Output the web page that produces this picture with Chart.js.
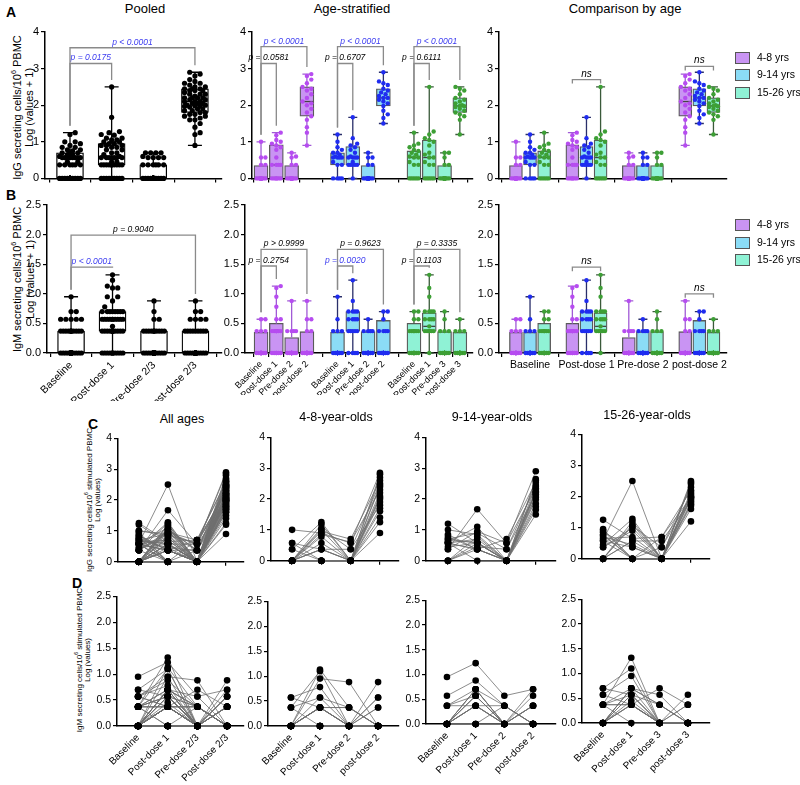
<!DOCTYPE html>
<html><head><meta charset="utf-8">
<script src="https://cdn.jsdelivr.net/npm/chart.js@4.4.1/dist/chart.umd.min.js"></script>
<style>
body{margin:0;width:800px;height:785px;position:relative;background:#fff;overflow:hidden;font-family:"Liberation Sans",Arial,sans-serif;color:#000}
canvas{position:absolute}
.t{position:absolute;white-space:nowrap;transform:translate(-50%,-50%);font-size:13px}
.L{position:absolute;font-weight:bold;font-size:14px}
.lg{position:absolute;font-size:10.5px;white-space:nowrap}
.sq{position:absolute;width:15px;height:12px;border:1.3px solid #555;box-sizing:border-box}
.v{position:absolute;white-space:nowrap;transform-origin:50% 50%;transform:rotate(-90deg)}
.v sup{font-size:65%;line-height:0}
</style></head><body>
<script>
// ================= DATA =================
const timepoints = ['Baseline', 'Post-dose 1', 'Pre-dose 2/3', 'Post-dose 2/3'];
const ageGroups = ['4-8 yrs', '9-14 yrs', '15-26 yrs'];
const groupTitles = ['4-8-year-olds', '9-14-year-olds', '15-26-year-olds'];
const stratLabels48 = ['Baseline', 'Post-dose 1', 'Pre-dose 2', 'post-dose 2'];
const stratLabels914 = ['Baseline', 'Post-dose 1', 'Pre-dose 2', 'post-dose 2'];
const stratLabels1526 = ['Baseline', 'Post-dose 1', 'Pre-dose 3', 'post-dose 3'];
const compareLabels = ['Baseline', 'Post-dose 1', 'Pre-dose 2', 'post-dose 2'];

// IgG secreting cells (log), one entry per subject
const igG_4to8_baseline  = [0,0,0.37,0,1.0,0,0,0.57,0,0,0.37,0,0,0.57,0,0,0,0,0];
const igG_4to8_postDose1 = [0.78,1.05,0,0.37,0.9,0,1.18,0.37,0.95,0,1.25,0.57,0.37,0,1.0,0.85,0,0.37,0];
const igG_4to8_preDose2  = [0,0.37,0,0,0.57,0,0,0,0.7,0,0,0,0.37,0,0,0.6,0,0,0];
const igG_4to8_postDose2 = [2.1,2.5,1.4,1.9,2.85,0.9,2.45,2.0,2.6,1.6,2.8,2.2,1.8,1.25,2.7,2.3,1.7,2.05,2.4];

const igG_9to14_baseline  = [0.57,0,0.7,1.2,0.37,0.57,0,0.85,0.45,0.6,0.57,0,0.78,1.0,0.37,0.65,0.7,0.57,0];
const igG_9to14_postDose1 = [0.37,0.57,0.9,0.57,1.67,0.37,0.78,0.37,0.57,1.1,0,0.45,0.37,0.85,0.95,0.6,0.57,0.7,0.37];
const igG_9to14_preDose2  = [0,0,0.37,0,0.57,0,0,0.7,0,0,0,0.37,0,0,0.57,0,0,0,0];
const igG_9to14_postDose2 = [2.2,1.85,2.45,2.6,2.9,1.5,2.05,2.55,1.75,2.3,1.65,2.15,2.4,2.65,2.35,1.98,2.1,2.25,2.2];

const igG_15to26_baseline  = [0.78,0,0.57,1.25,0,0.37,0.9,0.6,0,0.95,0.45,0.7,0,0.85,0.57,0.65,0.37,0,0.75];
const igG_15to26_postDose1 = [0,1.1,0.37,0.65,1.2,1.0,0,2.5,0.57,0,1.28,0.45,1.05,0.37,0,0.7,0.9,0.57,0];
const igG_15to26_preDose3  = [0.37,0,0,0.7,0,0,0,0,0.57,0,0,0,0.37,0,0.7,0,0,0,0];
const igG_15to26_postDose3 = [2.0,2.45,1.8,2.2,1.6,1.95,2.5,2.4,1.85,1.2,2.15,1.7,2.3,1.9,1.97,2.05,1.75,2.1,1.98];

// IgM secreting cells (log), one entry per subject
const igM_4to8_baseline  = [0,0.37,0,0,0.57,0,0,0,0.37,0,0,0,0.57,0,0,0.37,0,0,0];
const igM_4to8_postDose1 = [0.37,1.1,0,0.57,0.37,0,0.95,0.37,0,1.13,0.37,0,0.78,0.37,0,0.57,0.37,0,0.37];
const igM_4to8_preDose2  = [0,0,0,0.37,0,0,0.88,0,0,0.37,0,0,0,0.37,0,0,0,0,0.37];
const igM_4to8_postDose2 = [0,0.37,0,0,0,0.88,0,0,0.57,0,0,0.37,0,0,0.57,0,0,0,0];

const igM_9to14_baseline  = [0,0,0.37,0,0.95,0,0,0.57,0,0,0.37,0,0,0,0.37,0,0,0,0];
const igM_9to14_postDose1 = [0.57,0.37,0.7,0,1.23,0.37,0.57,0.88,0.7,0,0.37,0.57,0,0.7,0.57,0.37,0,0.7,0.37];
const igM_9to14_preDose2  = [0,0.37,0,0,0.57,0,0,0.37,0,0,0,0,0.37,0,0,0,0,0.37,0];
const igM_9to14_postDose2 = [0,0,0.37,0,0.7,0,0.37,0,0.57,0,0,0.7,0,0,0.37,0,0.37,0,0];

const igM_15to26_baseline  = [0.7,0,0.37,0,0.57,0,0.37,0,0.37,0.7,0.37,0,0,0.57,0,0.37,0,0,0.37];
const igM_15to26_postDose1 = [0.57,0.7,1.32,0.37,0.95,0.57,0,0.7,0.37,1.1,0.57,0.37,0.7,0.37,0.57,0.7,0.37,0.45,0.37];
const igM_15to26_preDose3  = [0,0.37,0,0.7,0,0,0,0.57,0,0,0.37,0,0,0,0,0.37,0,0,0];
const igM_15to26_postDose3 = [0,0,0,0.37,0,0.57,0,0,0,0,0,0.37,0,0,0,0,0.37,0,0];

// Box statistics [Q1, median, Q3] per time point
const igG_pooled_box  = [[0,0.37,0.7],[0.37,0.57,0.95],[0,0,0.37],[1.8,2.1,2.45]];
const igG_4to8_box    = [[0,0,0.35],[0,0.37,0.92],[0,0,0.35],[1.7,2.1,2.5]];
const igG_9to14_box   = [[0.37,0.57,0.7],[0.37,0.57,0.87],[0,0,0.35],[1.98,2.2,2.45]];
const igG_15to26_box  = [[0,0.57,0.75],[0,0.57,1.05],[0,0,0.35],[1.8,1.98,2.2]];
const igM_pooled_box  = [[0,0,0.37],[0.37,0.37,0.7],[0,0,0.37],[0,0,0.37]];
const igM_4to8_box    = [[0,0,0.35],[0,0.37,0.5],[0,0,0.26],[0,0,0.36]];
const igM_9to14_box   = [[0,0,0.35],[0.37,0.57,0.7],[0,0,0.36],[0,0,0.55]];
const igM_15to26_box  = [[0,0.37,0.5],[0.37,0.45,0.68],[0,0,0.36],[0,0,0.35]];

// Significance annotations
const pooledIgG_pvals = ['p = 0.0175', 'p < 0.0001'];
const stratIgG_pvals = [['p = 0.0581','p < 0.0001'],['p = 0.6707','p < 0.0001'],['p = 0.6111','p < 0.0001']];
const pooledIgM_pvals = ['p < 0.0001', 'p = 0.9040'];
const stratIgM_pvals = [['p = 0.2754','p > 0.9999'],['p = 0.0020','p = 0.9623'],['p = 0.1103','p = 0.3335']];

// ================= STYLE / HELPERS =================
const FONT = '"Liberation Sans", Arial, sans-serif';
Chart.defaults.font.family = FONT;
Chart.defaults.color = '#000';
const SIG = '#3b3bf0';
const COL = [
  {fill:'#c994f3', pt:'#b64cf0', wh:'#a15ad6'},
  {fill:'#8bdcf6', pt:'#1f2cf0', wh:'#2a2f6a'},
  {fill:'#8ff2d5', pt:'#3d9f35', wh:'#3a5a3a'}
];
const POOL = {fill:'#ffffff', pt:'#000000', wh:'#000000'};

const igG = [
  [igG_4to8_baseline, igG_4to8_postDose1, igG_4to8_preDose2, igG_4to8_postDose2],
  [igG_9to14_baseline, igG_9to14_postDose1, igG_9to14_preDose2, igG_9to14_postDose2],
  [igG_15to26_baseline, igG_15to26_postDose1, igG_15to26_preDose3, igG_15to26_postDose3]
];
const igM = [
  [igM_4to8_baseline, igM_4to8_postDose1, igM_4to8_preDose2, igM_4to8_postDose2],
  [igM_9to14_baseline, igM_9to14_postDose1, igM_9to14_preDose2, igM_9to14_postDose2],
  [igM_15to26_baseline, igM_15to26_postDose1, igM_15to26_preDose3, igM_15to26_postDose3]
];
const igGbox = [igG_4to8_box, igG_9to14_box, igG_15to26_box];
const igMbox = [igM_4to8_box, igM_9to14_box, igM_15to26_box];
const stratLabels = [stratLabels48, stratLabels914, stratLabels1526];

function place(l,t,r,b,yW,xH,padT,padR){
  const c = document.createElement('canvas');
  const w = Math.round(r-l+yW+padR), h = Math.round(b-t+padT+xH);
  c.width = w; c.height = h;
  c.style.left = (l-yW)+'px'; c.style.top = (t-padT)+'px';
  c.style.width = w+'px'; c.style.height = h+'px';
  document.body.appendChild(c);
  return c;
}
function text(cls, x, y, s, extra){
  const d = document.createElement('div'); d.className = cls; d.textContent = s;
  d.style.left = x+'px'; d.style.top = y+'px';
  if (extra) Object.assign(d.style, extra);
  document.body.appendChild(d); return d;
}
// rotated axis title line, centred on (cx, cy) using its measured size
function vline(cx, cy, html, size){
  const d = document.createElement('div'); d.className = 'v'; d.innerHTML = html;
  d.style.fontSize = size+'px'; d.style.lineHeight = Math.round(size*1.2)+'px';
  d.style.left = '0px'; d.style.top = '0px';
  document.body.appendChild(d);
  const w = d.offsetWidth, h = d.offsetHeight;
  d.style.left = (cx - w/2)+'px'; d.style.top = (cy - h/2)+'px';
}
function swarm(vals, pxX, pxY, cap, d){
  const order = vals.map((v,i)=>({v,i})).sort((a,b)=>a.v-b.v);
  const placed = [], out = new Array(vals.length);
  const step = d/2, n = Math.max(0, Math.floor(cap/step));
  const cands = [0]; for (let k=1;k<=n;k++){cands.push(k*step); cands.push(-k*step);}
  for (const p of order){
    const y = p.v*pxY; let best = 0, bestScore = -1;
    for (const c of cands){
      let m = Infinity;
      for (const q of placed){ const dd = Math.hypot(q.x-c, q.y-y); if (dd<m) m = dd; }
      if (m >= d){ best = c; break; }
      if (m > bestScore){ bestScore = m; best = c; }
    }
    placed.push({x:best, y}); out[p.i] = best/pxX;
  }
  return out;
}
function xAxis(o){
  return {type:'linear', min:o.xmin, max:o.xmax, offset:false,
    afterBuildTicks: ax => { ax.ticks = o.tickPos.map(v=>({value:v})); },
    afterFit: ax => { ax.height = o.xH; },
    ticks:{autoSkip:false, maxRotation:o.rot||0, minRotation:o.rot||0, font:{size:o.xFont||11}, color:'#000', padding:o.xPad||2,
      callback:(v,i)=> o.tickLabels ? o.tickLabels[i] : ''},
    grid:{display:true, drawOnChartArea:false, drawTicks:true, tickLength:4, color:'#000', lineWidth:1.2},
    border:{display:true, color:'#000', width:1.5}};
}
function yAxis(o){
  return {type:'linear', min:0, max:o.ymax,
    afterFit: ax => { ax.width = o.yW; },
    ticks:{stepSize:o.ystep, font:{size:o.yFont||11}, color:'#000', padding:2,
      callback: v => o.dec ? v.toFixed(1) : String(v)},
    grid:{display:true, drawOnChartArea:false, drawTicks:true, tickLength:4, color:'#000', lineWidth:1.2},
    border:{display:true, color:'#000', width:1.5},
    title:{display:false}};
}
function decoPlugin(o){
  return {id:'deco'+Math.random().toString(36).slice(2),
    afterDatasetDraw(chart, args){
      if (args.index !== 0 || !o.boxes) return;
      const ctx = chart.ctx, xs = chart.scales.x, ys = chart.scales.y;
      o.boxes.forEach(bx=>{
        const cx = xs.getPixelForValue(bx.x);
        const mn = Math.min(...bx.vals), mx = Math.max(...bx.vals);
        const pMin = ys.getPixelForValue(mn), pMax = ys.getPixelForValue(mx);
        const q1 = ys.getPixelForValue(bx.stats[0]), md = ys.getPixelForValue(bx.stats[1]), q3 = ys.getPixelForValue(bx.stats[2]);
        const hw = o.boxW/2, cap = o.capW/2;
        ctx.save(); ctx.strokeStyle = bx.wh; ctx.lineWidth = 1.3;
        ctx.beginPath();
        ctx.moveTo(cx,q1); ctx.lineTo(cx,pMin); ctx.moveTo(cx,q3); ctx.lineTo(cx,pMax);
        ctx.moveTo(cx-cap,pMin); ctx.lineTo(cx+cap,pMin); ctx.moveTo(cx-cap,pMax); ctx.lineTo(cx+cap,pMax);
        ctx.stroke();
        ctx.strokeStyle = o.medColor || '#444'; ctx.lineWidth = 1.3;
        ctx.beginPath(); ctx.moveTo(cx-hw+1,md); ctx.lineTo(cx+hw-1,md); ctx.stroke();
        ctx.restore();
      });
    },
    afterDatasetsDraw(chart){
      if (!o.brackets) return;
      const ctx = chart.ctx, xs = chart.scales.x, ys = chart.scales.y;
      const maxAt = pos => { const b = o.boxes.find(bx=>bx.x===pos); return b ? Math.max(...b.vals) : 0; };
      o.brackets.forEach(br=>{
        const x1 = xs.getPixelForValue(br.from), x2 = xs.getPixelForValue(br.to), y = ys.getPixelForValue(br.y);
        const y1 = br.short ? y+4 : ys.getPixelForValue(maxAt(br.from)) - 7;
        const y2 = br.short ? y+4 : ys.getPixelForValue(maxAt(br.to)) - 7;
        ctx.save(); ctx.strokeStyle = '#8a8a8a'; ctx.lineWidth = 1.3;
        ctx.beginPath(); ctx.moveTo(x1,y1); ctx.lineTo(x1,y); ctx.lineTo(x2,y); ctx.lineTo(x2,y2); ctx.stroke();
        ctx.fillStyle = br.color || '#000'; ctx.font = (br.short ? 'italic 10px ' : 'italic 8.5px ') + FONT;
        ctx.textAlign = 'center'; ctx.textBaseline = 'alphabetic';
        ctx.fillText(br.text, (x1+x2)/2, y-3);
        ctx.restore();
      });
    }};
}
function boxChart(o){
  const c = place(o.l,o.t,o.r,o.b,o.yW,o.xH,o.padT||10,o.padR||4);
  const pxX = (o.r-o.l)/(o.xmax-o.xmin), pxY = (o.b-o.t)/o.ymax;
  const datasets = [{type:'bar', data:o.boxes.map(bx=>({x:bx.x, y:[bx.stats[0], bx.stats[2]]})),
    backgroundColor:o.boxes.map(bx=>bx.fill), borderColor:o.boxBorder||'#5a5a5a', borderWidth:1.3,
    borderSkipped:false, barThickness:o.boxW, order:3, clip:false}];
  o.boxes.forEach(bx=>{
    const offs = swarm(bx.vals, pxX, pxY, o.boxW/2-1, o.ptR*2);
    datasets.push({type:'scatter', data:bx.vals.map((v,i)=>({x:bx.x+offs[i], y:v})),
      pointRadius:o.ptR, pointBackgroundColor:bx.pt, pointBorderWidth:0, showLine:false, order:1, clip:false});
  });
  new Chart(c, {type:'scatter', data:{datasets},
    options:{responsive:false, animation:false, events:[], devicePixelRatio:1,
      layout:{padding:{top:o.padT||10, right:o.padR||4, left:0, bottom:0}},
      plugins:{legend:{display:false}, tooltip:{enabled:false}},
      scales:{x:xAxis(o), y:yAxis(o)}},
    plugins:[decoPlugin(o)]});
}
function pairChart(o){
  const c = place(o.l,o.t,o.r,o.b,o.yW,o.xH,o.padT||8,o.padR||4);
  const n = o.series[0].length, datasets = [];
  for (let i=0;i<n;i++) datasets.push({data:o.series.map((arr,k)=>({x:k, y:arr[i]})), showLine:true,
    borderColor:'#6e6e6e', borderWidth:0.8, pointRadius:0, order:2, clip:false});
  datasets.push({data:o.series.flatMap((arr,k)=>arr.map(v=>({x:k, y:v}))), showLine:false,
    pointRadius:o.ptR||3.3, pointBackgroundColor:'#000', pointBorderWidth:0, order:1, clip:false});
  new Chart(c, {type:'scatter', data:{datasets},
    options:{responsive:false, animation:false, events:[], devicePixelRatio:1,
      layout:{padding:{top:o.padT||8, right:o.padR||4, left:0, bottom:0}},
      plugins:{legend:{display:false}, tooltip:{enabled:false}},
      scales:{x:xAxis(o), y:yAxis(o)}}});
}
const concat = (groups, k) => groups.flatMap(g => g[k]);

// ================= PANEL A (IgG) =================
text('L', 6, 4, 'A');
text('t', 145, 8, 'Pooled');
text('t', 352, 8, 'Age-stratified');
text('t', 625, 8, 'Comparison by age');
vline(17, 107, 'IgG secreting cells/10<sup>6</sup> PBMC', 11);
vline(29, 107, 'Log (values + 1)', 11);

boxChart({l:45,t:32,r:222,b:181, yW:45, xH:6, xmin:-0.6, xmax:3.65, ymax:4, ystep:1,
  tickPos:[0,1,2,3], tickLabels:null, boxW:27, capW:14, ptR:2.6, boxBorder:'#000', medColor:'#000',
  boxes:[0,1,2,3].map(k=>({x:k, vals:concat(igG,k), stats:igG_pooled_box[k], fill:POOL.fill, pt:POOL.pt, wh:POOL.wh})),
  brackets:[{from:0,to:1,y:3.14,text:pooledIgG_pvals[0],color:SIG},{from:0,to:3,y:3.57,text:pooledIgG_pvals[1],color:SIG}]});

const stratPos = [];
for (let g=0; g<3; g++) for (let k=0; k<4; k++) stratPos.push(g*5+k);

boxChart({l:252,t:32,r:473,b:181, yW:24, xH:6, xmin:-0.59, xmax:13.86, ymax:4, ystep:1,
  tickPos:stratPos, tickLabels:null, boxW:14, capW:9, ptR:2.2,
  boxes:stratPos.map((p,i)=>{const g=Math.floor(i/4),k=i%4; return {x:p, vals:igG[g][k], stats:igGbox[g][k], fill:COL[g].fill, pt:COL[g].pt, wh:COL[g].wh};}),
  brackets:[0,1,2].flatMap(g=>[{from:g*5,to:g*5+1,y:3.14,text:stratIgG_pvals[g][0],color:'#000'},{from:g*5,to:g*5+3,y:3.6,text:stratIgG_pvals[g][1],color:SIG}])});

const cmpPos = [];
for (let k=0; k<4; k++) for (let g=0; g<3; g++) cmpPos.push(k*4+g);
boxChart({l:499,t:32,r:727,b:181, yW:24, xH:6, xmin:-1.2, xmax:14.96, ymax:4, ystep:1,
  tickPos:[1,5,9,13], tickLabels:null, boxW:13, capW:9, ptR:2.2,
  boxes:cmpPos.map((p,i)=>{const k=Math.floor(i/3),g=i%3; return {x:p, vals:igG[g][k], stats:igGbox[g][k], fill:COL[g].fill, pt:COL[g].pt, wh:COL[g].wh};}),
  brackets:[{from:4,to:6,y:2.7,text:'ns',short:true},{from:12,to:14,y:3.06,text:'ns',short:true}]});

function legend(x, ys){
  ageGroups.forEach((s,g)=>{
    const q = document.createElement('div'); q.className='sq';
    q.style.left = x+'px'; q.style.top = (ys[g]-6)+'px'; q.style.background = COL[g].fill;
    document.body.appendChild(q);
    text('lg', x+22, ys[g]-7, s);
  });
}
legend(735, [58,75,93]);

// ================= PANEL B (IgM) =================
text('L', 6, 187, 'B');
vline(17, 279, 'IgM secreting cells/10<sup>6</sup> PBMC', 11);
vline(30, 279, 'Log (values + 1)', 11);
boxChart({l:47,t:205,r:222,b:353, yW:47, xH:48, xmin:-0.58, xmax:3.64, ymax:2.5, ystep:0.5, dec:true,
  tickPos:[0,1,2,3], tickLabels:timepoints, rot:45, xFont:10.5, boxW:27, capW:14, ptR:2.6, boxBorder:'#000', medColor:'#000',
  boxes:[0,1,2,3].map(k=>({x:k, vals:concat(igM,k), stats:igM_pooled_box[k], fill:POOL.fill, pt:POOL.pt, wh:POOL.wh})),
  brackets:[{from:0,to:1,y:1.45,text:pooledIgM_pvals[0],color:SIG},{from:0,to:3,y:1.99,text:pooledIgM_pvals[1],color:'#000'}]});

boxChart({l:245,t:205,r:473,b:353, yW:28, xH:42, xmin:-1.05, xmax:13.86, ymax:2.5, ystep:0.5, dec:true,
  tickPos:stratPos, tickLabels:stratLabels.flat(), rot:45, xFont:9, boxW:14, capW:9, ptR:2.2,
  boxes:stratPos.map((p,i)=>{const g=Math.floor(i/4),k=i%4; return {x:p, vals:igM[g][k], stats:igMbox[g][k], fill:COL[g].fill, pt:COL[g].pt, wh:COL[g].wh};}),
  brackets:[0,1,2].flatMap(g=>[{from:g*5,to:g*5+1,y:1.47,text:stratIgM_pvals[g][0],color:g===1?SIG:'#000'},{from:g*5,to:g*5+3,y:1.75,text:stratIgM_pvals[g][1],color:'#000'}])});

boxChart({l:499,t:205,r:727,b:353, yW:28, xH:20, xmin:-1.2, xmax:14.96, ymax:2.5, ystep:0.5, dec:true,
  tickPos:[1,5,9,13], tickLabels:compareLabels, rot:0, xFont:10.5, boxW:13, capW:9, ptR:2.2,
  boxes:cmpPos.map((p,i)=>{const k=Math.floor(i/3),g=i%3; return {x:p, vals:igM[g][k], stats:igMbox[g][k], fill:COL[g].fill, pt:COL[g].pt, wh:COL[g].wh};}),
  brackets:[{from:4,to:6,y:1.45,text:'ns',short:true},{from:12,to:14,y:1.0,text:'ns',short:true}]});
legend(735, [225,243,260]);

// ================= PANEL C (IgG paired) =================
text('L', 88, 416, 'C');
text('t', 182, 419, 'All ages', {fontSize:'12.5px'});
text('t', 336, 417, groupTitles[0], {fontSize:'12.5px'});
text('t', 492, 417, groupTitles[1], {fontSize:'12.5px'});
text('t', 647, 415, groupTitles[2], {fontSize:'12.5px'});
vline(90, 500, 'IgG secreting cells/10<sup>6</sup> stimulated PBMC', 8);
vline(98, 500, 'Log (values)', 8);
pairChart({l:118,t:438,r:244,b:564, yW:22, xH:6, xmin:-0.72, xmax:3.62, ymax:4, ystep:1, yFont:10.5,
  tickPos:[0,1,2,3], tickLabels:null, series:[0,1,2,3].map(k=>concat(igG,k))});
pairChart({l:271,t:437,r:399,b:563, yW:25, xH:6, xmin:-0.72, xmax:3.65, ymax:4, ystep:1, yFont:10.5, tickPos:[0,1,2,3], tickLabels:null, series:igG[0]});
pairChart({l:426,t:437,r:556,b:563, yW:25, xH:6, xmin:-0.75, xmax:3.69, ymax:4, ystep:1, yFont:10.5, tickPos:[0,1,2,3], tickLabels:null, series:igG[1]});
pairChart({l:582,t:434,r:710,b:561, yW:25, xH:6, xmin:-0.72, xmax:3.65, ymax:4, ystep:1, yFont:10.5, tickPos:[0,1,2,3], tickLabels:null, series:igG[2]});

// ================= PANEL D (IgM paired) =================
text('L', 72, 575, 'D');
vline(80, 660, 'IgM secreting cells/10<sup>6</sup> stimulated PBMC', 8);
vline(88, 660, 'Log (values)', 8);
pairChart({l:117,t:596,r:244,b:726, yW:28, xH:56, xmin:-0.71, xmax:3.57, ymax:2.5, ystep:0.5, dec:true, yFont:10.5,
  tickPos:[0,1,2,3], tickLabels:['Baseline','Post-dose 1','Pre-dose 2/3','Post-dose 2/3'], rot:45, xFont:10,
  series:[0,1,2,3].map(k=>concat(igM,k))});
pairChart({l:268,t:601,r:399,b:726, yW:25, xH:52, xmin:-0.79, xmax:3.72, ymax:2.5, ystep:0.5, dec:true, yFont:10.5,
  tickPos:[0,1,2,3], tickLabels:stratLabels48, rot:45, xFont:10, series:igM[0]});
pairChart({l:426,t:600,r:556,b:724, yW:25, xH:52, xmin:-0.73, xmax:3.8, ymax:2.5, ystep:0.5, dec:true, yFont:10.5,
  tickPos:[0,1,2,3], tickLabels:stratLabels914, rot:45, xFont:10, series:igM[1]});
pairChart({l:582,t:599,r:710,b:723, yW:25, xH:52, xmin:-0.74, xmax:3.78, ymax:2.5, ystep:0.5, dec:true, yFont:10.5,
  tickPos:[0,1,2,3], tickLabels:stratLabels1526, rot:45, xFont:10, series:igM[2]});
</script>
</body></html>
